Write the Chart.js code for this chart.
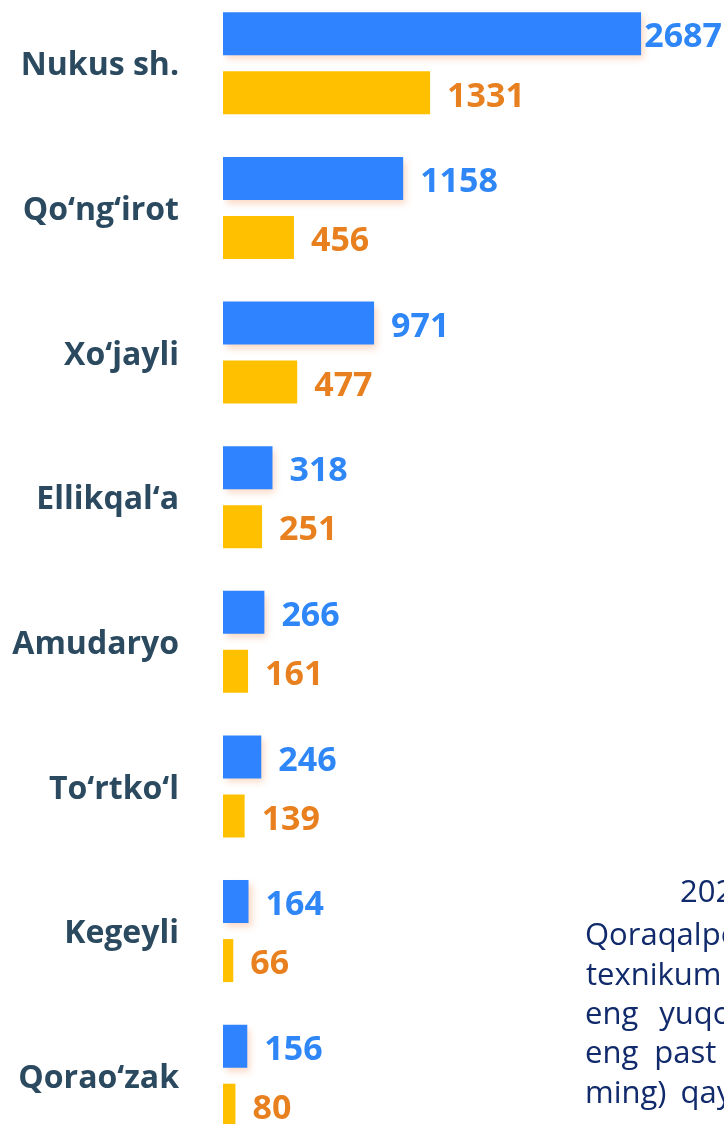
<!DOCTYPE html>
<html>
<head>
<meta charset="utf-8">
<script src="https://cdn.jsdelivr.net/npm/chart.js@4/dist/chart.umd.min.js"></script>
<style>
    html, body {
        margin: 0;
        padding: 0;
        background: #ffffff;
        width: 724px;
        height: 1124px;
        overflow: hidden;
        position: relative;
    }
    .chart-box {
        position: absolute;
        left: 0;
        top: -9px;
        width: 724px;
        height: 1157px;
    }
    .note-line {
        position: absolute;
        font-family: "Open Sans", sans-serif;
        font-size: 31px;
        line-height: 40px;
        color: #102a6b;
        white-space: nowrap;
    }
</style>
</head>
<body>
<div class="chart-box"><canvas id="districtChart"></canvas></div>

<div class="note-line" style="left:680px; top:870px;">2023-yilda</div>
<div class="note-line" style="left:585px; top:913px;">Qoraqalpog‘iston</div>
<div class="note-line" style="left:586px; top:953px;">texnikumlari</div>
<div class="note-line" style="left:585px; top:992px; word-spacing:13px;">eng yuqori</div>
<div class="note-line" style="left:585px; top:1031px; word-spacing:8px;">eng past</div>
<div class="note-line" style="left:585px; top:1071px; word-spacing:6px;">ming) qayd</div>

<script>
const districts = ['Nukus sh.', 'Qo‘ng‘irot', 'Xo‘jayli', 'Ellikqal‘a', 'Amudaryo', 'To‘rtko‘l', 'Kegeyli', 'Qorao‘zak'];
const blueValues = [2687, 1158, 971, 318, 266, 246, 164, 156];
const yellowValues = [1331, 456, 477, 251, 161, 139, 66, 80];

document.addEventListener('DOMContentLoaded', function() {
    // Shadow under the blue bars
    const barShadow = {
        id: 'barShadow',
        beforeDatasetDraw(chart, args) {
            if (args.index !== 0) return;
            const ctx = chart.ctx;
            ctx.save();
            ctx.shadowColor = 'rgba(240, 140, 80, 0.35)';
            ctx.shadowBlur = 7;
            ctx.shadowOffsetX = 3;
            ctx.shadowOffsetY = 4;
        },
        afterDatasetDraw(chart, args) {
            if (args.index !== 0) return;
            chart.ctx.restore();
        }
    };

    // Value labels at the end of each bar
    const valueLabels = {
        id: 'valueLabels',
        afterDatasetsDraw(chart) {
            const ctx = chart.ctx;
            ctx.save();
            ctx.font = 'bold 34px "Open Sans", sans-serif';
            ctx.textBaseline = 'middle';
            ctx.textAlign = 'left';
            chart.data.datasets.forEach((ds, i) => {
                const meta = chart.getDatasetMeta(i);
                ctx.fillStyle = i === 0 ? '#2e86f7' : '#e8801f';
                meta.data.forEach((bar, j) => {
                    const text = String(ds.data[j]);
                    const w = ctx.measureText(text).width;
                    let x = bar.x + 17;
                    if (x + w > chart.width - 2) x = chart.width - 2 - w;
                    ctx.fillText(text, x, bar.y + 4);
                });
            });
            ctx.restore();
        }
    };

    const ctx = document.getElementById('districtChart').getContext('2d');
    new Chart(ctx, {
        type: 'bar',
        data: {
            labels: districts,
            datasets: [
                {
                    label: 'Blue',
                    data: blueValues,
                    backgroundColor: '#2f83ff'
                },
                {
                    label: 'Yellow',
                    data: yellowValues,
                    backgroundColor: '#ffc000'
                }
            ]
        },
        options: {
            indexAxis: 'y',
            responsive: true,
            maintainAspectRatio: false,
            animation: false,
            categoryPercentage: 0.816,
            barPercentage: 0.729,
            layout: { padding: 0 },
            plugins: {
                legend: { display: false },
                tooltip: { enabled: false }
            },
            scales: {
                x: {
                    display: false,
                    min: 0,
                    max: 3220
                },
                y: {
                    grid: { display: false, drawTicks: false },
                    border: { display: false },
                    afterFit(scale) {
                        scale.width = 223;
                        scale.paddingTop = 0;
                        scale.paddingBottom = 0;
                    },
                    ticks: {
                        padding: 44,
                        labelOffset: 3,
                        color: '#2b4a60',
                        font: { family: '"Open Sans", sans-serif', size: 32, weight: 'bold' }
                    }
                }
            }
        },
        plugins: [barShadow, valueLabels]
    });
});
</script>
</body>
</html>
